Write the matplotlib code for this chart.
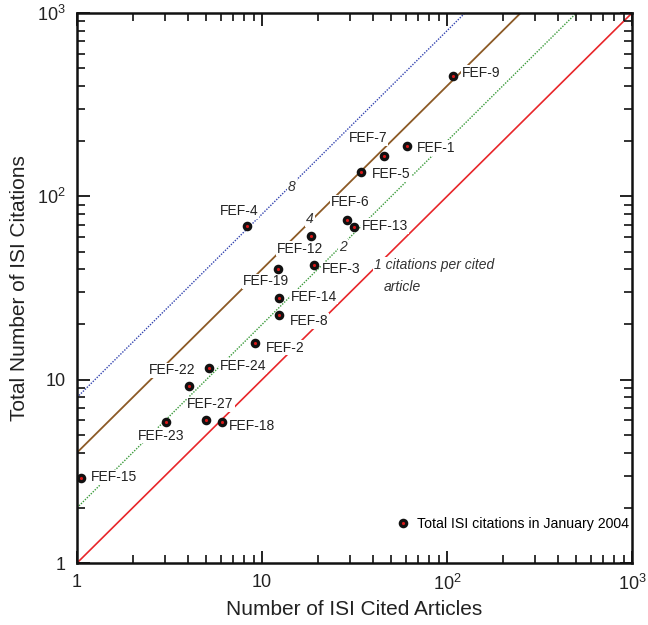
"""Citazioni ISI totali vs articoli citati (gennaio 2004)."""
import matplotlib
matplotlib.use("Agg")
import matplotlib.pyplot as plt
import numpy as np
from matplotlib.ticker import FixedLocator, FuncFormatter, LogLocator, NullFormatter

plt.rcParams["font.family"] = ["Liberation Sans", "DejaVu Sans"]
plt.rcParams["mathtext.default"] = "regular"

# --- dati ---
labels = ["FEF-9", "FEF-1", "FEF-7", "FEF-5", "FEF-6", "FEF-13", "FEF-4",
          "FEF-12", "FEF-3", "FEF-19", "FEF-14", "FEF-8", "FEF-2", "FEF-24",
          "FEF-22", "FEF-27", "FEF-18", "FEF-23", "FEF-15"]
cited_articles = [108, 61, 45.6, 34.4, 28.7, 31.4, 8.3,
                  18.3, 19.0, 12.2, 12.3, 12.3, 9.2, 5.2,
                  4.05, 5.0, 6.1, 3.03, 1.05]
total_citations = [455, 188, 166, 136, 74, 68, 69,
                   61, 42, 40, 28, 22.5, 15.9, 11.6,
                   9.2, 6.0, 5.9, 5.9, 2.9]
ratios = [1, 2, 4, 8]
legend_text = "Total ISI citations in January 2004"

# offset etichette (pixel) rispetto al punto
label_offsets = {
    "FEF-9": (9, 3), "FEF-1": (10, -2), "FEF-7": (-35, 18), "FEF-5": (11, -2),
    "FEF-6": (-16, 18), "FEF-13": (8, 1), "FEF-4": (-27, 15),
    "FEF-12": (-34, -13), "FEF-3": (8, -4), "FEF-19": (-35, -12),
    "FEF-14": (12, 1), "FEF-8": (11, -6), "FEF-2": (11, -5),
    "FEF-24": (10, 2), "FEF-22": (-41, 16), "FEF-27": (-19, 16),
    "FEF-18": (7, -4), "FEF-23": (-28, -14), "FEF-15": (10, 1),
}
ratio_styles = {
    1: dict(color="#e8262a", ls="-", lw=1.2),
    2: dict(color="#3a9a3a", ls=(0, (1, 1)), lw=1.0),
    4: dict(color="#8c5a26", ls="-", lw=1.3),
    8: dict(color="#3344b0", ls=(0, (1, 1)), lw=1.0),
}

fig = plt.figure(figsize=(6.48, 6.25), dpi=100)
ax = fig.add_axes([77 / 648, 1 - 563 / 625, 555 / 648, 550 / 625])
ax.set_xscale("log")
ax.set_yscale("log")
ax.set_xlim(1, 1000)
ax.set_ylim(1, 1000)

xs = np.logspace(0, 3, 200)
for r in ratios:
    ax.plot(xs, r * xs, zorder=1, **ratio_styles[r])

ax.plot(cited_articles, total_citations, "o", ms=4.6, mfc="#d81818",
        mec="#111111", mew=2.3, zorder=5, label=legend_text)

box = dict(facecolor="white", edgecolor="none", pad=0.5)
for name, x, y in zip(labels, cited_articles, total_citations):
    dx, dy = label_offsets[name]
    ax.annotate(name, (x, y), xytext=(dx, dy), textcoords="offset pixels",
                ha="left", va="center", fontsize=10, color="#222222",
                bbox=box, zorder=3)

# etichette delle rette
for txt, (px, py) in [("8", (292, 187)), ("4", (310, 219)), ("2", (343, 247))]:
    ax.annotate(txt, xy=(px, 625 - py), xycoords="figure pixels",
                ha="center", va="center", fontsize=10, style="italic",
                color="#333333", bbox=box, zorder=3)
ax.annotate("1 citations per cited", xy=(374, 625 - 265), xycoords="figure pixels",
            ha="left", va="center", fontsize=10, style="italic",
            color="#333333", bbox=box, zorder=3)
ax.annotate("article", xy=(384, 625 - 287), xycoords="figure pixels",
            ha="left", va="center", fontsize=10, style="italic",
            color="#333333", bbox=box, zorder=3)

ax.legend(loc="center right", bbox_to_anchor=(0.995, 0.071), frameon=False,
          handlelength=0.8, handletextpad=0.6, borderpad=0, borderaxespad=0,
          fontsize=10.2, numpoints=1)

fmt = FuncFormatter(lambda v, _: {1: "1", 10: "10", 100: "$10^2$",
                                  1000: "$10^3$"}.get(int(round(v)), ""))
for axis in (ax.xaxis, ax.yaxis):
    axis.set_major_locator(FixedLocator([1, 10, 100, 1000]))
    axis.set_major_formatter(fmt)
    axis.set_minor_locator(LogLocator(base=10, subs=np.arange(2, 10)))
    axis.set_minor_formatter(NullFormatter())

ax.tick_params(which="both", direction="in", top=True, right=True,
               labelsize=13, color="#111111", labelcolor="#222222")
ax.tick_params(which="major", length=9, width=1.3, pad=8)
ax.tick_params(which="minor", length=6, width=1.2)
for s in ax.spines.values():
    s.set_linewidth(1.8)
    s.set_color("#111111")

ax.set_xlabel("Number of ISI Cited Articles", fontsize=15, color="#222222",
              labelpad=4)
ax.set_ylabel("Total Number of ISI Citations", fontsize=15, color="#222222",
              labelpad=6)

fig.savefig("out.png", dpi=100)
